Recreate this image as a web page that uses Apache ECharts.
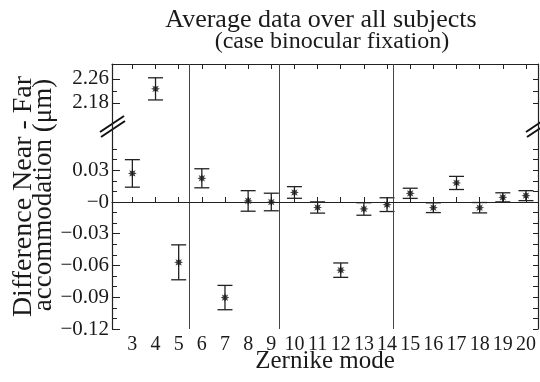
<!DOCTYPE html>
<html>
<head>
<meta charset="utf-8">
<script src="https://cdn.jsdelivr.net/npm/echarts@6.0.0/dist/echarts.min.js"></script>
<style>
  html, body { margin: 0; padding: 0; background: #fff; }
  #chart { width: 540px; height: 382px; }
</style>
</head>
<body>
<div id="chart"></div>
<script>
// Zernike modes and the mean near-far difference with its error (half bar length)
const modes = [3, 4, 5, 6, 7, 8, 9, 10, 11, 12, 13, 14, 15, 16, 17, 18, 19, 20];
const means = [0.027, 2.227, -0.057, 0.0224, -0.0903, 0.001, 0.0, 0.009, -0.0052,
  -0.0644, -0.0066, -0.0025, 0.0082, -0.0054, 0.018, -0.0054, 0.0044, 0.006];
const errors = [0.013, 0.037, 0.0165, 0.009, 0.0115, 0.0097, 0.0083, 0.0055, 0.0053,
  0.0068, 0.0059, 0.0065, 0.0048, 0.0046, 0.0062, 0.0049, 0.0043, 0.0047];

// vertical lines separating the mode groups
const separators = [5.44, 9.35, 14.27];

// ticks / labels
const xTicks = [3, 4, 5, 6, 7, 8, 9, 10, 11, 12, 13, 14, 15, 16, 17, 18, 19, 20];
const upperLabels = [2.18, 2.26];
const upperMinor = [2.22];
const upperTicks = [2.18, 2.22, 2.26];
const lowerLabels = [-0.12, -0.09, -0.06, -0.03, 0, 0.03];
const lowerMinor = [-0.11, -0.1, -0.08, -0.07, -0.05, -0.04, -0.02, -0.01, 0.01, 0.02, 0.04, 0.05];
const lowerTicks = [-0.12, -0.11, -0.1, -0.09, -0.08, -0.07, -0.06, -0.05, -0.04, -0.03,
  -0.02, -0.01, 0, 0.01, 0.02, 0.03, 0.04, 0.05];

const breakValue = 1; // values above this are drawn in the upper panel

const FONT = '"Liberation Serif", "Times New Roman", serif';
const INK = '#1a1a1a';
const FRAME = '#222';

const upperPts = [], lowerPts = [], upperBars = [], lowerBars = [];
modes.forEach((m, i) => {
  const pt = [m, means[i]];
  const bar = [m, means[i] - errors[i], means[i] + errors[i]];
  if (means[i] > breakValue) { upperPts.push(pt); upperBars.push(bar); }
  else { lowerPts.push(pt); lowerBars.push(bar); }
});

const fmt = (v) => {
  if (Math.abs(v) < 1e-9) return '\u22120';
  return v < 0 ? '\u2212' + Math.abs(v).toFixed(2) : v.toFixed(2);
};

const starPath = 'path://M10 0 L4.62 1.91 L7.07 7.07 L1.91 4.62 L0 10 L-1.91 4.62 L-7.07 7.07 L-4.62 1.91 L-10 0 L-4.62 -1.91 L-7.07 -7.07 L-1.91 -4.62 L0 -10 L1.91 -4.62 L7.07 -7.07 L4.62 -1.91 Z';

function renderErrorBar(params, api) {
  const x = api.value(0);
  const top = api.coord([x, api.value(2)]);
  const bot = api.coord([x, api.value(1)]);
  const w = 7.5;
  const style = { stroke: FRAME, lineWidth: 1.3 };
  return {
    type: 'group',
    children: [
      { type: 'line', shape: { x1: top[0], y1: top[1], x2: bot[0], y2: bot[1] }, style },
      { type: 'line', shape: { x1: top[0] - w, y1: top[1], x2: top[0] + w, y2: top[1] }, style },
      { type: 'line', shape: { x1: bot[0] - w, y1: bot[1], x2: bot[0] + w, y2: bot[1] }, style }
    ]
  };
}

const sepLines = separators.map((v) => ({ xAxis: v, lineStyle: { color: '#444', width: 1, type: 'solid' } }));

const lineAxis = { show: true, lineStyle: { color: FRAME, width: 1.2 } };
const xRange = { type: 'value', min: 2.12, max: 20.52, splitLine: { show: false } };

const chart = echarts.init(document.getElementById('chart'));

chart.setOption({
  animation: false,
  backgroundColor: '#fff',
  textStyle: { fontFamily: FONT },
  title: [
    {
      text: 'Average data over all subjects',
      left: 321, top: 7.5, textAlign: 'center', padding: 0,
      textStyle: { fontFamily: FONT, fontSize: 26, fontWeight: 'normal', color: INK, lineHeight: 26 }
    },
    {
      text: '(case binocular fixation)',
      left: 332, top: 30, textAlign: 'center', padding: 0,
      textStyle: { fontFamily: FONT, fontSize: 24, fontWeight: 'normal', color: INK, lineHeight: 24 }
    }
  ],
  grid: [
    { left: 112, right: 2, top: 64, height: 62, show: false, outerBoundsMode: 'none' },
    { left: 112, right: 2, top: 126, bottom: 53, show: false, outerBoundsMode: 'none' }
  ],
  xAxis: [
    {
      ...xRange, gridIndex: 0, position: 'top',
      axisLine: lineAxis,
      axisTick: { show: true, inside: true, length: 5, customValues: xTicks, lineStyle: { color: FRAME } },
      axisLabel: { show: false }
    },
    {
      ...xRange, gridIndex: 1, position: 'bottom',
      axisLine: lineAxis,
      axisTick: { show: true, inside: true, length: 5, customValues: xTicks, lineStyle: { color: FRAME } },
      axisLabel: {
        show: true, customValues: xTicks, margin: 6, fontSize: 20, lineHeight: 20,
        fontFamily: FONT, color: INK
      },
      name: 'Zernike mode',
      nameLocation: 'middle',
      nameGap: 20,
      nameMoveOverlap: false,
      nameTextStyle: { fontFamily: FONT, fontSize: 25, lineHeight: 25, color: INK }
    }
  ],
  yAxis: [
    // upper panel
    {
      type: 'value', gridIndex: 0, position: 'left', min: 2.103, max: 2.31,
      axisLine: lineAxis, splitLine: { show: false },
      axisTick: { show: true, inside: true, length: 8, customValues: upperLabels, lineStyle: { color: FRAME } },
      axisLabel: { show: true, customValues: upperLabels, margin: 3, fontSize: 21, fontFamily: FONT, color: INK, formatter: fmt }
    },
    {
      type: 'value', gridIndex: 0, position: 'left', min: 2.103, max: 2.31,
      axisLine: { show: false }, splitLine: { show: false }, axisLabel: { show: false },
      axisTick: { show: true, inside: true, length: 5, customValues: upperMinor, lineStyle: { color: FRAME } }
    },
    {
      type: 'value', gridIndex: 0, position: 'right', min: 2.103, max: 2.31,
      axisLine: lineAxis, splitLine: { show: false }, axisLabel: { show: false },
      axisTick: { show: true, inside: true, length: 5, customValues: upperTicks, lineStyle: { color: FRAME } }
    },
    // lower panel
    {
      type: 'value', gridIndex: 1, position: 'left', min: -0.12, max: 0.0718,
      axisLine: lineAxis, splitLine: { show: false },
      axisTick: { show: true, inside: true, length: 8, customValues: lowerLabels, lineStyle: { color: FRAME } },
      axisLabel: { show: true, customValues: lowerLabels, margin: 3, fontSize: 21, fontFamily: FONT, color: INK, formatter: fmt }
    },
    {
      type: 'value', gridIndex: 1, position: 'left', min: -0.12, max: 0.0718,
      axisLine: { show: false }, splitLine: { show: false }, axisLabel: { show: false },
      axisTick: { show: true, inside: true, length: 5, customValues: lowerMinor, lineStyle: { color: FRAME } }
    },
    {
      type: 'value', gridIndex: 1, position: 'right', min: -0.12, max: 0.0718,
      axisLine: lineAxis, splitLine: { show: false }, axisLabel: { show: false },
      axisTick: { show: true, inside: true, length: 5, customValues: lowerTicks, lineStyle: { color: FRAME } }
    }
  ],
  series: [
    {
      type: 'custom', xAxisIndex: 0, yAxisIndex: 0,
      renderItem: renderErrorBar, data: upperBars, z: 3
    },
    {
      type: 'scatter', xAxisIndex: 0, yAxisIndex: 0,
      symbol: starPath, symbolSize: 9, itemStyle: { color: '#111' }, data: upperPts, z: 4,
      markLine: { silent: true, symbol: 'none', label: { show: false }, data: sepLines }
    },
    {
      type: 'custom', xAxisIndex: 1, yAxisIndex: 3,
      renderItem: renderErrorBar, data: lowerBars, z: 3
    },
    {
      type: 'scatter', xAxisIndex: 1, yAxisIndex: 3,
      symbol: starPath, symbolSize: 9, itemStyle: { color: '#111' }, data: lowerPts, z: 4,
      markLine: {
        silent: true, symbol: 'none', label: { show: false },
        data: sepLines.concat([{ yAxis: 0, lineStyle: { color: FRAME, width: 1.2, type: 'solid' } }])
      }
    }
  ],
  graphic: [
    {
      type: 'text', x: 24, y: 196.5, rotation: Math.PI / 2,
      style: { text: 'Difference Near - Far', font: '28px ' + FONT, fill: INK, align: 'center', verticalAlign: 'middle' }
    },
    {
      type: 'text', x: 44, y: 195, rotation: Math.PI / 2,
      style: { text: 'accommodation (\u03bcm)', font: '27px ' + FONT, fill: INK, align: 'center', verticalAlign: 'middle' }
    },
    // axis break marks
    { type: 'line', shape: { x1: 100, y1: 132, x2: 124, y2: 116 }, style: { stroke: '#111', lineWidth: 2 } },
    { type: 'line', shape: { x1: 101, y1: 137, x2: 125, y2: 121 }, style: { stroke: '#111', lineWidth: 2 } },
    { type: 'line', shape: { x1: 526, y1: 132, x2: 550, y2: 116 }, style: { stroke: '#111', lineWidth: 2 } },
    { type: 'line', shape: { x1: 527, y1: 137, x2: 551, y2: 121 }, style: { stroke: '#111', lineWidth: 2 } }
  ]
});
</script>
</body>
</html>
